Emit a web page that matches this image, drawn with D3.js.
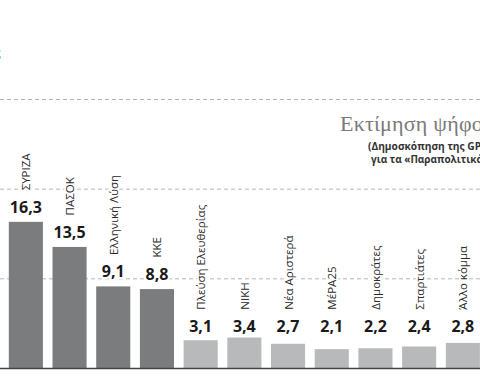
<!DOCTYPE html>
<html>
<head>
<meta charset="utf-8">
<script src="https://cdn.jsdelivr.net/npm/d3@7"></script>
<style>
  html, body { margin: 0; padding: 0; background: #fff; overflow: hidden; }
  svg { display: block; }
</style>
</head>
<body>
<script>
// poll data (GPO for Parapolitika) - vote estimate
var parties = ["ΣΥΡΙΖΑ", "ΠΑΣΟΚ", "Ελληνική Λύση", "ΚΚΕ", "Πλεύση Ελευθερίας", "ΝΙΚΗ",
  "Νέα Αριστερά", "ΜέΡΑ25", "Δημοκράτες", "Σπαρτιάτες", "Άλλο κόμμα"];
var values = [16.3, 13.5, 9.1, 8.8, 3.1, 3.4, 2.7, 2.1, 2.2, 2.4, 2.8];
var groups = ["major", "major", "major", "major", "minor", "minor", "minor", "minor", "minor", "minor", "minor"];
var gridValues = [10, 20, 30];

var width = 480, height = 384;

function getBarColor(g) {
    if (g === "major")
        return "#7b7c7e";
    else
        return "#b8b9bb";
}

function fmt(v) {
    return v.toFixed(1).replace(".", ",");
}

var svg = d3.select("body").append("svg")
    .attr("width", width)
    .attr("height", height);

var x = d3.scaleBand()
    .domain(parties)
    .range([4, 484.7])
    .paddingInner(0.22)
    .paddingOuter(0.11);

var y = d3.scaleLinear()
    .domain([0, 30])
    .range([368, 99]);

// dashed grid lines
var grid = svg.append("g")
    .attr("transform", "translate(" + width + ",0)")
    .call(d3.axisLeft(y).tickValues(gridValues).tickSize(width).tickFormat(""));
grid.select(".domain").remove();
grid.selectAll("line")
    .attr("stroke", "#b5b5b5")
    .attr("stroke-width", 1)
    .attr("stroke-dasharray", "4,3");

// cropped title fragment at top left
svg.append("text")
    .attr("x", 0.5)
    .attr("y", 57)
    .attr("text-anchor", "end")
    .style("font-family", "Open Sans")
    .style("font-weight", "bold")
    .style("font-size", "13px")
    .style("fill", "#3a9090")
    .text("Δημοσκοπήσεις");

// title block
svg.append("text")
    .attr("x", 340)
    .attr("y", 131)
    .style("font-family", "Liberation Serif")
    .style("font-size", "22px")
    .style("letter-spacing", "0.2px")
    .style("fill", "#7a7a7a")
    .text("Εκτίμηση ψήφου");

svg.append("text")
    .attr("x", 368)
    .attr("y", 150)
    .style("font-family", "Open Sans")
    .style("font-weight", "bold")
    .style("font-size", "10.2px")
    .style("fill", "#333")
    .text("(Δημοσκόπηση της GPO");

svg.append("text")
    .attr("x", 371)
    .attr("y", 163)
    .style("font-family", "Open Sans")
    .style("font-weight", "bold")
    .style("font-size", "10px")
    .style("fill", "#333")
    .text("για τα «Παραπολιτικά»)");

var data = parties.map(function(p, i) {
    return { name: p, value: values[i], group: groups[i] };
});

// label baseline: above bar for big parties, common row for small ones
function labelY(d) {
    if (d.group === "major")
        return y(d.value) - 9;
    else
        return y(4);
}

svg.append("g").selectAll("rect")
    .data(data)
    .enter()
    .append("rect")
    .attr("x", function(d) { return x(d.name); })
    .attr("y", function(d) { return y(d.value); })
    .attr("width", x.bandwidth())
    .attr("height", function(d) { return y(0) - y(d.value); })
    .style("fill", function(d) { return getBarColor(d.group); });

// baseline
svg.append("line")
    .attr("x1", 0)
    .attr("x2", width)
    .attr("y1", y(0) + 0.5)
    .attr("y2", y(0) + 0.5)
    .attr("stroke", "#444")
    .attr("stroke-width", 1.5);

// value labels
svg.append("g").selectAll("text")
    .data(data)
    .enter()
    .append("text")
    .attr("x", function(d) { return x(d.name) + x.bandwidth() / 2; })
    .attr("y", labelY)
    .attr("text-anchor", "middle")
    .style("font-family", "Open Sans")
    .style("font-weight", "bold")
    .style("font-size", "16px")
    .style("fill", "#1a1a1a")
    .style("stroke", "#fff")
    .style("stroke-width", 4)
    .style("paint-order", "stroke")
    .text(function(d) { return fmt(d.value); });

// party names, rotated
svg.append("g").selectAll("text")
    .data(data)
    .enter()
    .append("text")
    .attr("transform", function(d) {
        var cx = x(d.name) + x.bandwidth() / 2 + 4.5;
        var cy = labelY(d) - 11.5 - 11;
        return "translate(" + cx + "," + cy + ") rotate(-90)";
    })
    .style("font-family", "Open Sans")
    .style("font-size", "11.5px")
    .style("fill", "#2a2a2a")
    .style("stroke", "#fff")
    .style("stroke-width", 4)
    .style("paint-order", "stroke")
    .text(function(d) { return d.name; });
</script>
</body>
</html>
